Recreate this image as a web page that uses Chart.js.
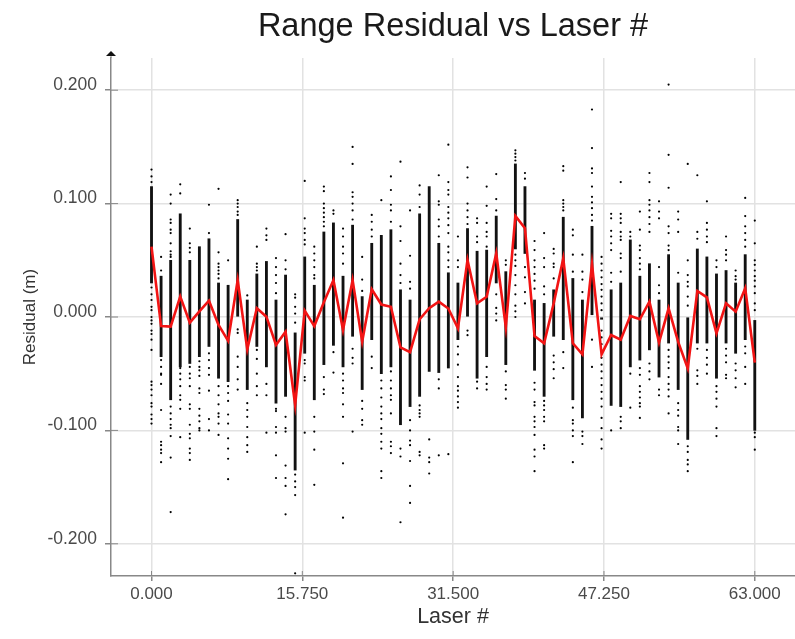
<!DOCTYPE html>
<html>
<head>
<meta charset="utf-8">
<title>Range Residual vs Laser #</title>
<script src="https://cdn.jsdelivr.net/npm/chart.js@4"></script>
<style>
  html, body { margin: 0; padding: 0; background: #fff; }
  #myChart { display: block; filter: blur(0.45px); }
</style>
</head>
<body>
<canvas id="myChart" width="795" height="639"></canvas>
<script>
var xTicks = [0, 15.75, 31.5, 47.25, 63];
var yTicks = [-0.2, -0.1, 0, 0.1, 0.2];

// mean residual of each laser (red line)
var meanResidual = [
  0.062, -0.008, -0.0085, 0.018, -0.005, 0.005, 0.0144, -0.007, -0.021, 0.0326,
  -0.0285, 0.0077, 0.0003, -0.0247, -0.013, -0.0776, 0.0056, -0.008, 0.013, 0.0326,
  -0.0115, 0.0326, -0.0217, 0.0244, 0.011, 0.009, -0.0268, -0.031, -0.002, 0.0077,
  0.0135, 0.0075, -0.01, 0.0503, 0.012, 0.0179, 0.0561, -0.009, 0.0891, 0.0782,
  -0.0168, -0.0232, 0.012, 0.0517, -0.0232, -0.033, 0.0467, -0.033, -0.0159, -0.02,
  0.0009, -0.002, 0.0135, -0.0226, 0.0076, -0.022, -0.0453, 0.0229, 0.0173, -0.0144,
  0.0121, 0.0047, 0.0253, -0.0403
];

// solid part of each laser's column of samples
var columnHigh = [
  0.115, 0.036, 0.05, 0.091, 0.05, 0.062, 0.069, 0.03, 0.028, 0.086,
  0.015, 0.038, 0.049, 0.015, 0.037, -0.014, 0.053, 0.028, 0.075, 0.083,
  0.036, 0.081, 0.018, 0.065, 0.072, 0.077, 0.024, 0.015, 0.091, 0.115,
  0.065, 0.039, 0.03, 0.078, 0.058, 0.059, 0.089, 0.04, 0.135, 0.115,
  0.015, 0.012, 0.024, 0.088, 0.034, 0.015, 0.08, 0, 0.024, 0.03,
  0.068, 0.036, 0.047, 0.015, 0.055, 0.03, 0, 0.06, 0.053, 0.038,
  0.041, 0.03, 0.055, -0.003
];
var columnLow = [
  0.03, -0.035, -0.073, -0.044, -0.041, -0.035, -0.026, -0.054, -0.057, 0,
  -0.064, -0.026, -0.044, -0.076, -0.07, -0.135, -0.032, -0.073, -0.042, -0.025,
  -0.044, -0.017, -0.064, -0.02, -0.05, -0.044, -0.095, -0.079, -0.07, -0.048,
  -0.049, -0.045, -0.02, 0, -0.054, -0.035, 0.03, -0.042, 0.06, 0.056,
  -0.047, -0.07, -0.017, -0.02, -0.073, -0.089, 0.002, -0.002, -0.078, -0.079,
  -0.044, -0.038, -0.029, -0.053, -0.023, -0.064, -0.108, -0.023, -0.023, -0.054,
  -0.023, -0.032, -0.02, -0.1
];

// samples outside the solid part, one list per laser
var strayDots = [
  [0.13, 0.124, 0.119, 0.026, 0.02, 0.015, 0.009, 0.006, 0, -0.003, -0.006, -0.012, -0.015, -0.02, -0.029, -0.057, -0.06, -0.064, -0.069, -0.076, -0.079, -0.086, -0.09, -0.094],
  [0.053, 0.041, -0.038, -0.044, -0.05, -0.051, -0.059, -0.082, -0.11, -0.113, -0.117, -0.12, -0.128],
  [0.108, 0.1, 0.086, 0.083, 0.077, 0.074, 0.065, 0.058, 0.055, 0.053, -0.079, -0.085, -0.09, -0.095, -0.098, -0.105, -0.124, -0.172],
  [0.117, 0.109, -0.045, -0.05, -0.055, -0.061, -0.069, -0.073, -0.081, -0.106],
  [0.078, 0.065, 0.061, 0.057, -0.044, -0.05, -0.054, -0.061, -0.077, -0.081, -0.095, -0.103, -0.107, -0.116, -0.12, -0.126],
  [-0.039, -0.044, -0.047, -0.052, -0.063, -0.067, -0.081, -0.087, -0.092, -0.098, -0.1],
  [0.099, 0.074, -0.032, -0.038, -0.045, -0.051, -0.065, -0.09, -0.1],
  [0.113, 0.057, 0.047, 0.044, 0.041, 0.038, 0.034, -0.061, -0.069, -0.077, -0.085, -0.088, -0.094, -0.104],
  [0.05, -0.061, -0.067, -0.074, -0.086, -0.094, -0.107, -0.116, -0.125, -0.143],
  [0.103, 0.1, 0.097, 0.093, 0.09, -0.011, -0.014, -0.035, -0.044, -0.055, -0.064],
  [0.019, -0.076, -0.082, -0.088, -0.097, -0.106, -0.113, -0.119],
  [0.062, 0.047, 0.044, 0.041, -0.029, -0.037, -0.05, -0.061, -0.069],
  [0.078, 0.072, 0.068, -0.059, -0.069, -0.102],
  [0.052, 0.044, 0.037, 0.03, 0.021, -0.081, -0.083, -0.097, -0.102, -0.122, -0.142],
  [0.073, 0.05, 0.042, -0.088, -0.098, -0.101, -0.131, -0.142, -0.149, -0.174],
  [0.02, 0.017, 0.009, 0.003, -0.005, -0.139, -0.145, -0.15, -0.157, -0.226],
  [0.12, 0.087, 0.078, 0.074, 0.068, 0.064, -0.038, -0.041, -0.053, -0.056, -0.102],
  [0.062, 0.056, 0.05, 0.044, 0.037, 0.034, -0.088, -0.101, -0.117, -0.148],
  [0.115, 0.111, 0.1, 0.096, 0.092, 0.088, 0.084, 0.08, -0.053, -0.064, -0.068],
  [0.094, 0.091, -0.031, -0.049],
  [0.078, 0.071, 0.062, 0.056, 0.047, -0.05, -0.056, -0.063, -0.067, -0.077, -0.088, -0.129, -0.177],
  [0.15, 0.135, 0.11, 0.106, 0.1, 0.094, 0.086, -0.028, -0.036, -0.041, -0.101],
  [0.053, 0.033, 0.023, -0.074, -0.081, -0.091, -0.095],
  [0.09, 0.084, 0.077, 0.071, -0.035, -0.045],
  [0.103, -0.056, -0.063, -0.071, -0.079, -0.085, -0.09, -0.098, -0.103, -0.11, -0.116, -0.136, -0.142],
  [0.124, 0.112, 0.099, 0.094, 0.084, -0.048, -0.056, -0.063, -0.069, -0.073, -0.085, -0.11, -0.114, -0.12],
  [0.137, 0.08, 0.067, 0.047, 0.037, 0.03, -0.116, -0.123, -0.181],
  [0.094, 0.054, 0.031, 0.025, -0.091, -0.1, -0.109, -0.113, -0.127, -0.149, -0.164],
  [0.116, 0.108, 0.097, -0.078, -0.082, -0.085, -0.088, -0.119, -0.122],
  [-0.108, -0.124, -0.128, -0.138],
  [0.125, 0.102, 0.099, 0.086, 0.08, 0.071, -0.055, -0.063, -0.122],
  [0.152, 0.119, 0.112, 0.108, 0.097, 0.092, 0.087, 0.081, 0.074, 0.062, 0.057, 0.05, 0.044, -0.121],
  [0.071, 0.05, 0.044, -0.026, -0.033, -0.042, -0.053, -0.061, -0.065, -0.07, -0.075, -0.08],
  [0.132, 0.123, 0.1, 0.094, 0.088, 0.082, -0.012, -0.016],
  [0.087, 0.083, 0.071, 0.066, -0.057, -0.063],
  [0.115, 0.098, 0.083, 0.075, 0.071, 0.062, -0.044, -0.053, -0.059, -0.064],
  [0.126, 0.104, 0.094, 0.02, 0.008, 0.003, -0.003],
  [0.05, 0.046, -0.048, -0.06, -0.064, -0.072],
  [0.147, 0.144, 0.141, 0.138, 0.055, 0.05, 0.045, 0.037, 0.028, 0.02, 0.01, 0.005, 0],
  [0.127, 0.122, 0.044, 0.035, 0.022, 0.012],
  [0.067, 0.059, 0.05, 0.044, 0.038, 0.032, 0.025, -0.058, -0.064, -0.075, -0.078, -0.088, -0.092, -0.097, -0.104, -0.117, -0.123, -0.136],
  [0.074, 0.052, 0.044, 0.027, 0.02, -0.074, -0.078, -0.082, -0.088, -0.092, -0.113, -0.116],
  [0.06, 0.056, 0.047, 0.044, 0.034, -0.034, -0.04, -0.046, -0.054],
  [0.133, 0.129, 0.103, 0.1, 0.097, 0.094, -0.031, -0.045],
  [0.077, 0.072, 0.055, 0.04, -0.08, -0.091, -0.094, -0.1, -0.105, -0.128],
  [0.055, 0.04, 0.033, 0.022, -0.101, -0.105, -0.112],
  [0.183, 0.149, 0.131, 0.127, 0.115, 0.106, 0.101, 0.096, 0.09, 0.085, -0.02, -0.044],
  [0.053, 0.047, 0.041, 0.035, 0.029, 0.024, 0.018, 0.012, 0.006, -0.012, -0.018, -0.024, -0.03, -0.036, -0.042, -0.048, -0.054, -0.06, -0.066, -0.072, -0.079, -0.089, -0.098, -0.108, -0.116],
  [0.091, 0.087, 0.076, 0.071, 0.065, 0.059, 0.039, 0.031, -0.1],
  [0.119, 0.091, 0.087, 0.083, 0.075, 0.071, 0.068, 0.056, 0.052, 0.04, -0.088, -0.092, -0.098],
  [0.075, 0.071, -0.05, -0.08],
  [0.093, 0.077, 0.063, 0.059, 0.052, 0.047, 0.042, -0.045, -0.051, -0.061, -0.066, -0.071, -0.076, -0.079, -0.089],
  [0.127, 0.119, 0.103, 0.099, 0.094, 0.088, 0.082, 0.075, -0.041, -0.048, -0.055],
  [0.102, 0.093, 0.087, 0.044, 0.028, 0.021, -0.064, -0.069],
  [0.205, 0.143, 0.114, 0.08, 0.074, 0.063, 0.059, -0.029, -0.035, -0.04, -0.045, -0.053, -0.059, -0.064, -0.07, -0.085],
  [0.093, 0.086, 0.075, 0.039, -0.076, -0.082, -0.087, -0.097, -0.1, -0.112],
  [0.135, 0.05, 0.037, 0.031, 0.027, 0.018, 0.01, -0.114, -0.119, -0.126, -0.13, -0.136],
  [0.125, 0.075, 0.069, -0.028, -0.047, -0.052, -0.059],
  [0.102, 0.083, 0.077, 0.071, 0.066, -0.029, -0.036, -0.042, -0.05],
  [0.05, 0.044, -0.061, -0.066, -0.072, -0.079, -0.098, -0.105],
  [0.071, 0.059, 0.055, 0.05, -0.028, -0.034, -0.04, -0.051, -0.054],
  [0.041, 0.036, 0.033, -0.041, -0.047, -0.054, -0.062],
  [0.105, 0.089, 0.08, 0.074, 0.068, 0.062, -0.026, -0.032, -0.044, -0.059],
  [0.085, 0.065, 0.05, 0.046, 0.041, 0.036, 0.032, 0.027, 0.021, 0.012, 0.006, -0.102, -0.106, -0.117]
];

function columnPoints() {
  return columnHigh.map(function (high, i) {
    return { x: i, y: [columnLow[i], high] };
  });
}

function dotPoints() {
  var points = [];
  strayDots.forEach(function (list, i) {
    list.forEach(function (value) {
      points.push({ x: i, y: value });
    });
  });
  return points;
}

function meanPoints() {
  return meanResidual.map(function (value, i) {
    return { x: i, y: value };
  });
}

// inner half of the tick marks and the arrow on top of the y axis
var axisDecor = {
  id: 'axisDecor',
  afterDraw: function (chart) {
    var ctx = chart.ctx;
    var x = chart.scales.x;
    var y = chart.scales.y;
    ctx.save();
    ctx.strokeStyle = '#888';
    ctx.lineWidth = 1;
    ctx.beginPath();
    yTicks.forEach(function (v) {
      var py = y.getPixelForValue(v);
      ctx.moveTo(x.left, py);
      ctx.lineTo(x.left + 7, py);
    });
    xTicks.forEach(function (v) {
      var px = x.getPixelForValue(v);
      ctx.moveTo(px, y.bottom);
      ctx.lineTo(px, y.bottom - 5);
    });
    ctx.moveTo(x.left, y.top);
    ctx.lineTo(x.left, y.top - 6);
    ctx.stroke();
    ctx.fillStyle = '#111';
    ctx.beginPath();
    ctx.moveTo(x.left, y.top - 7);
    ctx.lineTo(x.left - 5, y.top - 2);
    ctx.lineTo(x.left + 5, y.top - 2);
    ctx.closePath();
    ctx.fill();
    ctx.restore();
  }
};

var ctx = document.getElementById('myChart').getContext('2d');
var myChart = new Chart(ctx, {
  type: 'bar',
  data: {
    datasets: [
      {
        type: 'line',
        data: meanPoints(),
        borderColor: '#f21414',
        borderWidth: 2.6,
        pointRadius: 0,
        tension: 0,
        order: 1
      },
      {
        type: 'bar',
        data: columnPoints(),
        backgroundColor: '#111',
        barThickness: 2.2,
        order: 3
      },
      {
        type: 'scatter',
        data: dotPoints(),
        backgroundColor: '#000',
        borderWidth: 0,
        pointRadius: 1.1,
        order: 2
      }
    ]
  },
  options: {
    responsive: false,
    animation: false,
    layout: { padding: 0, autoPadding: false },
    plugins: {
      legend: { display: false },
      tooltip: { enabled: false },
      title: {
        display: true,
        text: 'Range Residual vs Laser #',
        fullSize: false,
        color: '#1a1a1a',
        font: { family: '"Liberation Sans", Arial, sans-serif', size: 32.5, weight: 'normal', lineHeight: 1.2 },
        padding: { top: 8, bottom: 11 }
      }
    },
    scales: {
      x: {
        type: 'linear',
        offset: false,
        min: -4.23,
        max: 67.2,
        afterFit: function (scale) {
          scale.height = 63;
          scale.paddingLeft = 0;
          scale.paddingRight = 0;
        },
        afterBuildTicks: function (scale) {
          scale.ticks = xTicks.map(function (v) { return { value: v }; });
        },
        grid: { offset: false, color: '#e2e2e2', lineWidth: 1.5, tickColor: '#888', tickLength: 5 },
        border: { color: '#888', width: 1.5 },
        ticks: {
          color: '#4a4a4a',
          padding: 3,
          maxRotation: 0,
          autoSkip: false,
          font: { family: '"Liberation Sans", Arial, sans-serif', size: 17 },
          callback: function (v) { return v.toFixed(3); }
        },
        title: {
          display: true,
          text: 'Laser #',
          color: '#333',
          font: { family: '"Liberation Sans", Arial, sans-serif', size: 21.5 },
          padding: { top: 0, bottom: 9 }
        }
      },
      y: {
        min: -0.2284,
        max: 0.2284,
        afterFit: function (scale) { scale.width = 111; },
        afterBuildTicks: function (scale) {
          scale.ticks = yTicks.map(function (v) { return { value: v }; });
        },
        grid: { color: '#e2e2e2', lineWidth: 1.5, tickColor: '#888', tickLength: 6 },
        border: { color: '#888', width: 1.5 },
        ticks: {
          color: '#4a4a4a',
          padding: 8,
          labelOffset: -5,
          autoSkip: false,
          font: { family: '"Liberation Sans", Arial, sans-serif', size: 17.5 },
          callback: function (v) { return v.toFixed(3); }
        },
        title: {
          display: true,
          text: 'Residual (m)',
          color: '#333',
          font: { family: '"Liberation Sans", Arial, sans-serif', size: 17 },
          padding: { top: 20, bottom: 0 }
        }
      }
    }
  },
  plugins: [axisDecor]
});
</script>
</body>
</html>
